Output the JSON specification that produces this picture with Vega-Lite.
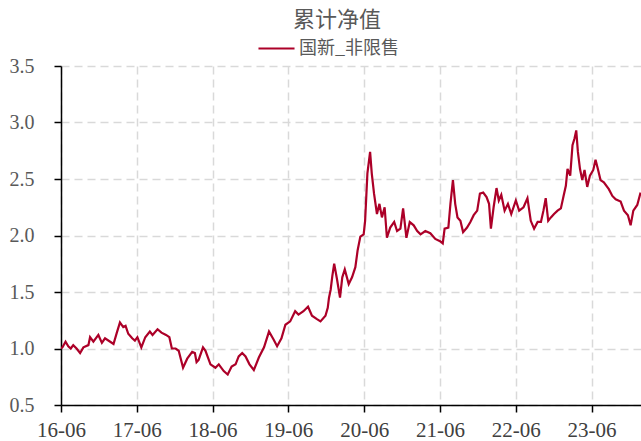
{
  "$schema": "https://vega.github.io/schema/vega-lite/v6.json",
  "width": 580,
  "height": 339,
  "autosize": "none",
  "padding": {"left": 61, "top": 66, "right": 0, "bottom": 36},
  "background": "white",
  "title": {
    "text": "累计净值",
    "font": "Noto Sans CJK SC",
    "fontSize": 22,
    "fontWeight": "normal",
    "color": "#595959",
    "anchor": "middle",
    "dx": -14,
    "dy": 7,
    "offset": 4
  },
  "config": {
    "view": {"stroke": null},
    "axis": {
      "domainColor": "#000000",
      "domainWidth": 1.5,
      "tickColor": "#000000",
      "tickWidth": 1.5,
      "tickSize": 7,
      "gridColor": "#d9d9d9",
      "gridDash": [8, 5],
      "gridWidth": 1.5,
      "labelFont": "Liberation Serif",
      "title": null
    }
  },
  "data": {
    "values": [
      {"date": "2016-06-01", "v": 1.00},
      {"date": "2016-06-08", "v": 1.01},
      {"date": "2016-06-23", "v": 1.06},
      {"date": "2016-07-06", "v": 1.02},
      {"date": "2016-07-18", "v": 1.00},
      {"date": "2016-07-30", "v": 1.03},
      {"date": "2016-08-15", "v": 1.00},
      {"date": "2016-09-01", "v": 0.96},
      {"date": "2016-09-17", "v": 1.01},
      {"date": "2016-10-11", "v": 1.03},
      {"date": "2016-10-19", "v": 1.10},
      {"date": "2016-11-04", "v": 1.06},
      {"date": "2016-11-28", "v": 1.12},
      {"date": "2016-12-15", "v": 1.05},
      {"date": "2016-12-30", "v": 1.09},
      {"date": "2017-01-24", "v": 1.06},
      {"date": "2017-02-09", "v": 1.04},
      {"date": "2017-02-25", "v": 1.14},
      {"date": "2017-03-12", "v": 1.23},
      {"date": "2017-03-28", "v": 1.19},
      {"date": "2017-04-08", "v": 1.20},
      {"date": "2017-04-21", "v": 1.13},
      {"date": "2017-05-10", "v": 1.09},
      {"date": "2017-05-23", "v": 1.07},
      {"date": "2017-06-04", "v": 1.10},
      {"date": "2017-06-23", "v": 1.01},
      {"date": "2017-07-12", "v": 1.10},
      {"date": "2017-08-03", "v": 1.15},
      {"date": "2017-08-16", "v": 1.12},
      {"date": "2017-09-09", "v": 1.17},
      {"date": "2017-09-28", "v": 1.14},
      {"date": "2017-10-20", "v": 1.12},
      {"date": "2017-11-05", "v": 1.10},
      {"date": "2017-11-17", "v": 1.00},
      {"date": "2017-12-05", "v": 1.00},
      {"date": "2017-12-20", "v": 0.98},
      {"date": "2018-01-10", "v": 0.83},
      {"date": "2018-01-30", "v": 0.91},
      {"date": "2018-02-23", "v": 0.97},
      {"date": "2018-03-08", "v": 0.96},
      {"date": "2018-03-16", "v": 0.88},
      {"date": "2018-03-26", "v": 0.90},
      {"date": "2018-04-16", "v": 1.01},
      {"date": "2018-04-28", "v": 0.98},
      {"date": "2018-05-22", "v": 0.86},
      {"date": "2018-06-15", "v": 0.83},
      {"date": "2018-07-01", "v": 0.86},
      {"date": "2018-07-25", "v": 0.80},
      {"date": "2018-08-13", "v": 0.77},
      {"date": "2018-09-01", "v": 0.84},
      {"date": "2018-09-20", "v": 0.86},
      {"date": "2018-10-05", "v": 0.93},
      {"date": "2018-10-22", "v": 0.96},
      {"date": "2018-11-07", "v": 0.93},
      {"date": "2018-11-26", "v": 0.86},
      {"date": "2018-12-17", "v": 0.81},
      {"date": "2019-01-10", "v": 0.92},
      {"date": "2019-02-04", "v": 1.01},
      {"date": "2019-02-28", "v": 1.15},
      {"date": "2019-03-22", "v": 1.08},
      {"date": "2019-04-08", "v": 1.02},
      {"date": "2019-04-29", "v": 1.09},
      {"date": "2019-05-18", "v": 1.21},
      {"date": "2019-06-10", "v": 1.24},
      {"date": "2019-07-04", "v": 1.33},
      {"date": "2019-07-20", "v": 1.30},
      {"date": "2019-08-13", "v": 1.33},
      {"date": "2019-09-04", "v": 1.37},
      {"date": "2019-09-23", "v": 1.29},
      {"date": "2019-10-17", "v": 1.26},
      {"date": "2019-11-03", "v": 1.24},
      {"date": "2019-11-27", "v": 1.29},
      {"date": "2019-12-08", "v": 1.36},
      {"date": "2019-12-14", "v": 1.45},
      {"date": "2019-12-22", "v": 1.52},
      {"date": "2019-12-30", "v": 1.64},
      {"date": "2020-01-08", "v": 1.75},
      {"date": "2020-01-21", "v": 1.62},
      {"date": "2020-02-05", "v": 1.45},
      {"date": "2020-02-16", "v": 1.63},
      {"date": "2020-02-28", "v": 1.70},
      {"date": "2020-03-18", "v": 1.57},
      {"date": "2020-04-03", "v": 1.63},
      {"date": "2020-04-19", "v": 1.72},
      {"date": "2020-04-30", "v": 1.87},
      {"date": "2020-05-13", "v": 1.99},
      {"date": "2020-05-29", "v": 2.01},
      {"date": "2020-06-05", "v": 2.13},
      {"date": "2020-06-16", "v": 2.55},
      {"date": "2020-06-29", "v": 2.74},
      {"date": "2020-07-07", "v": 2.55},
      {"date": "2020-07-18", "v": 2.37},
      {"date": "2020-08-01", "v": 2.19},
      {"date": "2020-08-13", "v": 2.28},
      {"date": "2020-08-25", "v": 2.16},
      {"date": "2020-09-07", "v": 2.25},
      {"date": "2020-09-18", "v": 1.98},
      {"date": "2020-10-04", "v": 2.07},
      {"date": "2020-10-23", "v": 2.12},
      {"date": "2020-11-06", "v": 2.04},
      {"date": "2020-11-22", "v": 2.06},
      {"date": "2020-12-05", "v": 2.24},
      {"date": "2020-12-21", "v": 1.98},
      {"date": "2021-01-06", "v": 2.12},
      {"date": "2021-01-25", "v": 2.09},
      {"date": "2021-02-11", "v": 2.04},
      {"date": "2021-02-27", "v": 2.01},
      {"date": "2021-03-22", "v": 2.04},
      {"date": "2021-04-15", "v": 2.02},
      {"date": "2021-05-09", "v": 1.97},
      {"date": "2021-06-01", "v": 1.95},
      {"date": "2021-06-14", "v": 1.93},
      {"date": "2021-06-23", "v": 2.06},
      {"date": "2021-07-11", "v": 2.07},
      {"date": "2021-07-21", "v": 2.28},
      {"date": "2021-08-02", "v": 2.49},
      {"date": "2021-08-13", "v": 2.28},
      {"date": "2021-08-24", "v": 2.16},
      {"date": "2021-09-07", "v": 2.13},
      {"date": "2021-09-20", "v": 2.03},
      {"date": "2021-10-09", "v": 2.07},
      {"date": "2021-10-25", "v": 2.12},
      {"date": "2021-11-10", "v": 2.18},
      {"date": "2021-11-27", "v": 2.22},
      {"date": "2021-12-10", "v": 2.37},
      {"date": "2021-12-26", "v": 2.38},
      {"date": "2022-01-11", "v": 2.34},
      {"date": "2022-01-23", "v": 2.28},
      {"date": "2022-02-01", "v": 2.06},
      {"date": "2022-02-14", "v": 2.25},
      {"date": "2022-02-28", "v": 2.42},
      {"date": "2022-03-11", "v": 2.31},
      {"date": "2022-03-23", "v": 2.36},
      {"date": "2022-04-08", "v": 2.22},
      {"date": "2022-04-24", "v": 2.28},
      {"date": "2022-05-10", "v": 2.19},
      {"date": "2022-06-01", "v": 2.31},
      {"date": "2022-06-17", "v": 2.22},
      {"date": "2022-07-08", "v": 2.25},
      {"date": "2022-07-27", "v": 2.33},
      {"date": "2022-08-12", "v": 2.13},
      {"date": "2022-08-28", "v": 2.06},
      {"date": "2022-09-14", "v": 2.12},
      {"date": "2022-09-30", "v": 2.12},
      {"date": "2022-10-12", "v": 2.22},
      {"date": "2022-10-23", "v": 2.33},
      {"date": "2022-11-04", "v": 2.13},
      {"date": "2022-11-17", "v": 2.16},
      {"date": "2022-12-02", "v": 2.19},
      {"date": "2022-12-19", "v": 2.22},
      {"date": "2023-01-04", "v": 2.24},
      {"date": "2023-01-17", "v": 2.35},
      {"date": "2023-01-28", "v": 2.44},
      {"date": "2023-02-05", "v": 2.59},
      {"date": "2023-02-18", "v": 2.53},
      {"date": "2023-03-01", "v": 2.80},
      {"date": "2023-03-11", "v": 2.86},
      {"date": "2023-03-19", "v": 2.93},
      {"date": "2023-03-27", "v": 2.74},
      {"date": "2023-04-06", "v": 2.59},
      {"date": "2023-04-17", "v": 2.49},
      {"date": "2023-04-28", "v": 2.58},
      {"date": "2023-05-11", "v": 2.43},
      {"date": "2023-05-24", "v": 2.53},
      {"date": "2023-06-09", "v": 2.58},
      {"date": "2023-06-20", "v": 2.67},
      {"date": "2023-07-01", "v": 2.59},
      {"date": "2023-07-14", "v": 2.49},
      {"date": "2023-07-30", "v": 2.47},
      {"date": "2023-08-23", "v": 2.41},
      {"date": "2023-09-09", "v": 2.35},
      {"date": "2023-09-25", "v": 2.32},
      {"date": "2023-10-19", "v": 2.30},
      {"date": "2023-11-04", "v": 2.22},
      {"date": "2023-11-23", "v": 2.18},
      {"date": "2023-12-06", "v": 2.09},
      {"date": "2023-12-19", "v": 2.22},
      {"date": "2024-01-07", "v": 2.27},
      {"date": "2024-01-23", "v": 2.38}
    ]
  },
  "mark": {"type": "line", "strokeWidth": 2.2, "clip": true},
  "encoding": {
    "x": {
      "field": "date",
      "type": "temporal",
      "scale": {"domain": [{"year": 2016, "month": 6, "date": 1}, {"year": 2024, "month": 1, "date": 25}]},
      "axis": {
        "format": "%y-%m",
        "values": [
          {"year": 2016, "month": 6, "date": 1},
          {"year": 2017, "month": 6, "date": 1},
          {"year": 2018, "month": 6, "date": 1},
          {"year": 2019, "month": 6, "date": 1},
          {"year": 2020, "month": 6, "date": 1},
          {"year": 2021, "month": 6, "date": 1},
          {"year": 2022, "month": 6, "date": 1},
          {"year": 2023, "month": 6, "date": 1}
        ],
        "labelFontSize": 21,
        "labelColor": "#404040",
        "labelPadding": 7,
        "labelFlush": false,
        "labelOverlap": false
      }
    },
    "y": {
      "field": "v",
      "type": "quantitative",
      "scale": {"domain": [0.5, 3.5], "nice": false, "zero": false},
      "axis": {
        "values": [0.5, 1, 1.5, 2, 2.5, 3, 3.5],
        "format": ".1f",
        "labelFontSize": 20,
        "labelColor": "#595959",
        "labelPadding": 20
      }
    },
    "color": {
      "datum": "国新_非限售",
      "scale": {"range": ["#AC0028"]},
      "legend": {
        "title": null,
        "orient": "none",
        "legendX": 196,
        "legendY": -37,
        "symbolType": "stroke",
        "symbolSize": 1300,
        "symbolStrokeWidth": 2,
        "labelFont": "Noto Sans CJK SC",
        "labelFontSize": 18,
        "labelColor": "#595959",
        "labelOffset": 3
      }
    }
  }
}
